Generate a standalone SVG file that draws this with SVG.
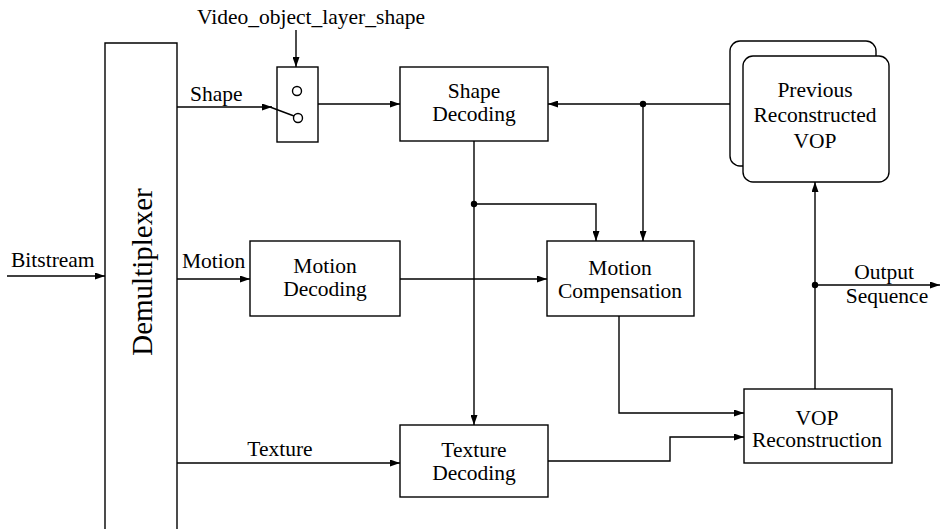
<svg xmlns="http://www.w3.org/2000/svg" width="940" height="529" viewBox="0 0 940 529">
<style>
  .box { fill: #fff; stroke: #000; stroke-width: 1.4; }
  .ln { fill: none; stroke: #000; stroke-width: 1.4; }
  .arr { fill: none; stroke: #000; stroke-width: 1.4; marker-end: url(#ah); }
  text { font-family: "Liberation Serif", "Times New Roman", serif; font-size: 21.5px; fill: #000; }
  .c { text-anchor: middle; }
</style>
<defs>
  <marker id="ah" markerUnits="userSpaceOnUse" markerWidth="10" markerHeight="7" refX="10" refY="3.5" orient="auto">
    <path d="M0,0 L10,3.5 L0,7 z" fill="#000"/>
  </marker>
</defs>
<rect width="940" height="529" fill="#fff"/>

<g id="demux">
  <path class="ln" d="M105,529 V43 H177 V529"/>
  <text transform="translate(152,272) rotate(-90)" class="c" style="font-size:29px">Demultiplexer</text>
</g>

<g id="switch">
  <rect class="box" x="277" y="67" width="41" height="75"/>
  <circle cx="297" cy="91" r="4.5" class="ln"/>
  <circle cx="298" cy="118" r="4.5" class="ln"/>
</g>

<g id="shape-decoding">
  <rect class="box" x="400" y="67" width="148" height="74"/>
  <text x="474" y="98" class="c">Shape</text>
  <text x="474" y="121" class="c">Decoding</text>
</g>

<g id="previous-vop">
  <rect class="box" x="730" y="41" width="146" height="125" rx="10"/>
  <rect class="box" x="743" y="56" width="146" height="126" rx="10"/>
  <text x="815" y="97" class="c">Previous</text>
  <text x="815" y="122" class="c">Reconstructed</text>
  <text x="815" y="148" class="c">VOP</text>
</g>

<g id="motion-decoding">
  <rect class="box" x="250" y="241" width="150" height="75"/>
  <text x="325" y="273" class="c">Motion</text>
  <text x="325" y="296" class="c">Decoding</text>
</g>

<g id="motion-compensation">
  <rect class="box" x="547" y="241" width="147" height="75"/>
  <text x="620" y="275" class="c">Motion</text>
  <text x="620" y="298" class="c">Compensation</text>
</g>

<g id="texture-decoding">
  <rect class="box" x="400" y="425" width="148" height="72"/>
  <text x="474" y="457" class="c">Texture</text>
  <text x="474" y="480" class="c">Decoding</text>
</g>

<g id="vop-reconstruction">
  <rect class="box" x="744" y="389" width="148" height="74"/>
  <text x="817" y="425" class="c">VOP</text>
  <text x="817" y="447" class="c">Reconstruction</text>
</g>

<g id="connectors">
  <path class="arr" d="M7,276 H105"/>
  <path class="arr" d="M177,107 H272"/>
  <path class="ln" d="M270,107 L294,116"/>
  <path class="arr" d="M296,30 V67"/>
  <path class="arr" d="M318,104 H400"/>
  <path class="arr" d="M730,104 H548"/>
  <path class="arr" d="M643,104 V241"/>
  <path class="arr" d="M474,141 V425"/>
  <path class="arr" d="M474,204 H596 V241"/>
  <path class="arr" d="M177,279 H250"/>
  <path class="arr" d="M400,279 H547"/>
  <path class="arr" d="M619,316 V413 H744"/>
  <path class="arr" d="M177,463 H400"/>
  <path class="arr" d="M548,461 H670 V437 H744"/>
  <path class="arr" d="M815,389 V182"/>
  <path class="arr" d="M815,285 H940"/>
  <circle cx="643" cy="104" r="3.2" fill="#000"/>
  <circle cx="474" cy="204" r="3.2" fill="#000"/>
  <circle cx="815" cy="285" r="3.2" fill="#000"/>
</g>

<g id="labels">
  <text x="311" y="24" class="c">Video_object_layer_shape</text>
  <text x="11" y="267">Bitstream</text>
  <text x="190" y="101">Shape</text>
  <text x="182" y="268">Motion</text>
  <text x="280" y="456" class="c">Texture</text>
  <text x="884" y="279" class="c">Output</text>
  <text x="887" y="303" class="c">Sequence</text>
</g>
</svg>
